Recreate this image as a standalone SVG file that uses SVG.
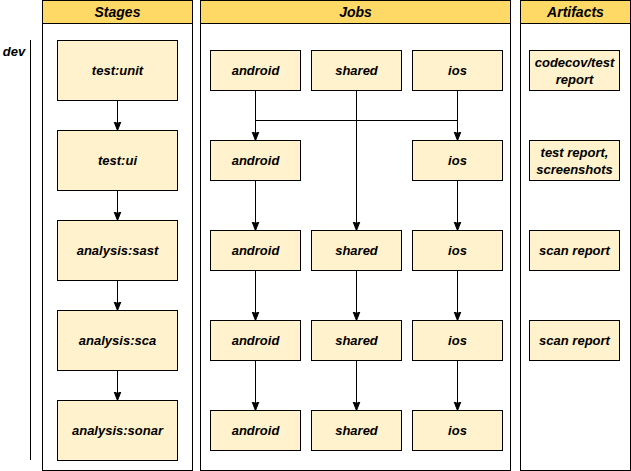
<svg xmlns="http://www.w3.org/2000/svg" width="631" height="471" viewBox="0 0 631 471">
<style>
.lane{fill:#ffffff;stroke:#000000;stroke-width:1}
.hdr{fill:#ffd966;stroke:#000000;stroke-width:1}
.node{fill:#fff2cc;stroke:#000000;stroke-width:1}
text{font-family:"Liberation Sans",Arial,Helvetica,sans-serif;font-weight:bold;font-style:italic;fill:#000000;text-anchor:middle}
.h{font-size:14px}
.t{font-size:13px}
.edge{fill:none;stroke:#000000;stroke-width:1}
.arr{marker-end:url(#ah)}
</style>
<defs>
<marker id="ah" markerUnits="userSpaceOnUse" markerWidth="10" markerHeight="10" viewBox="0 -5 10 10" refX="9" refY="0" orient="auto">
<path d="M0,-3.5 L9,0 L0,3.5 L2,0 Z" fill="#000000" stroke="#000000" stroke-width="1"/>
</marker>
</defs>
<rect width="631" height="471" fill="#ffffff"/>

<g id="dev-lane">
<text class="t" x="14" y="56">dev</text>
<line x1="30.5" y1="40" x2="30.5" y2="460" stroke="#000000" stroke-width="1"/>
</g>

<g id="stages">
<rect class="lane" x="42.5" y="0.5" width="150" height="470"/>
<rect class="hdr" x="42.5" y="0.5" width="150" height="23"/>
<text class="h" x="117.5" y="17">Stages</text>
</g>
<g id="jobs">
<rect class="lane" x="200.5" y="0.5" width="310" height="470"/>
<rect class="hdr" x="200.5" y="0.5" width="310" height="23"/>
<text class="h" x="355.5" y="17">Jobs</text>
</g>
<g id="artifacts">
<rect class="lane" x="520.5" y="0.5" width="110" height="470"/>
<rect class="hdr" x="520.5" y="0.5" width="110" height="23"/>
<text class="h" x="575.5" y="17">Artifacts</text>
</g>

<g id="connectors">
<path class="edge arr" d="M117.5,100.5 V130.5"/>
<path class="edge arr" d="M117.5,190.5 V220.5"/>
<path class="edge arr" d="M117.5,280.5 V310.5"/>
<path class="edge arr" d="M117.5,370.5 V400.5"/>

<path class="edge arr" d="M255.5,90.5 V140.5"/>
<path class="edge arr" d="M457.5,90.5 V140.5"/>
<path class="edge" d="M255.5,120.5 H457.5"/>
<path class="edge arr" d="M356.5,90.5 V230.5"/>

<path class="edge arr" d="M255.5,180.5 V230.5"/>
<path class="edge arr" d="M457.5,180.5 V230.5"/>

<path class="edge arr" d="M255.5,270.5 V320.5"/>
<path class="edge arr" d="M356.5,270.5 V320.5"/>
<path class="edge arr" d="M457.5,270.5 V320.5"/>

<path class="edge arr" d="M255.5,360.5 V410.5"/>
<path class="edge arr" d="M356.5,360.5 V410.5"/>
<path class="edge arr" d="M457.5,360.5 V410.5"/>
</g>

<g id="stage-test-unit"><rect class="node" x="57.5" y="40.5" width="120" height="60"/><text class="t" x="117.5" y="75">test:unit</text></g>
<g id="stage-test-ui"><rect class="node" x="57.5" y="130.5" width="120" height="60"/><text class="t" x="117.5" y="165">test:ui</text></g>
<g id="stage-analysis-sast"><rect class="node" x="57.5" y="220.5" width="120" height="60"/><text class="t" x="117.5" y="255">analysis:sast</text></g>
<g id="stage-analysis-sca"><rect class="node" x="57.5" y="310.5" width="120" height="60"/><text class="t" x="117.5" y="345">analysis:sca</text></g>
<g id="stage-analysis-sonar"><rect class="node" x="57.5" y="400.5" width="120" height="60"/><text class="t" x="117.5" y="435">analysis:sonar</text></g>

<g id="job-android-1"><rect class="node" x="210.5" y="50.5" width="90" height="40"/><text class="t" x="255.5" y="75">android</text></g>
<g id="job-shared-1"><rect class="node" x="311.5" y="50.5" width="90" height="40"/><text class="t" x="356.5" y="75">shared</text></g>
<g id="job-ios-1"><rect class="node" x="412.5" y="50.5" width="90" height="40"/><text class="t" x="457.5" y="75">ios</text></g>

<g id="job-android-2"><rect class="node" x="210.5" y="140.5" width="90" height="40"/><text class="t" x="255.5" y="165">android</text></g>
<g id="job-ios-2"><rect class="node" x="412.5" y="140.5" width="90" height="40"/><text class="t" x="457.5" y="165">ios</text></g>

<g id="job-android-3"><rect class="node" x="210.5" y="230.5" width="90" height="40"/><text class="t" x="255.5" y="255">android</text></g>
<g id="job-shared-3"><rect class="node" x="311.5" y="230.5" width="90" height="40"/><text class="t" x="356.5" y="255">shared</text></g>
<g id="job-ios-3"><rect class="node" x="412.5" y="230.5" width="90" height="40"/><text class="t" x="457.5" y="255">ios</text></g>

<g id="job-android-4"><rect class="node" x="210.5" y="320.5" width="90" height="40"/><text class="t" x="255.5" y="345">android</text></g>
<g id="job-shared-4"><rect class="node" x="311.5" y="320.5" width="90" height="40"/><text class="t" x="356.5" y="345">shared</text></g>
<g id="job-ios-4"><rect class="node" x="412.5" y="320.5" width="90" height="40"/><text class="t" x="457.5" y="345">ios</text></g>

<g id="job-android-5"><rect class="node" x="210.5" y="410.5" width="90" height="40"/><text class="t" x="255.5" y="435">android</text></g>
<g id="job-shared-5"><rect class="node" x="311.5" y="410.5" width="90" height="40"/><text class="t" x="356.5" y="435">shared</text></g>
<g id="job-ios-5"><rect class="node" x="412.5" y="410.5" width="90" height="40"/><text class="t" x="457.5" y="435">ios</text></g>

<g id="artifact-codecov"><rect class="node" x="529.5" y="50.5" width="90" height="40"/><text class="t" x="574.5" y="67">codecov/test</text><text class="t" x="574.5" y="83.5">report</text></g>
<g id="artifact-test-report"><rect class="node" x="529.5" y="140.5" width="90" height="40"/><text class="t" x="574.5" y="157">test report,</text><text class="t" x="574.5" y="173.5">screenshots</text></g>
<g id="artifact-scan-1"><rect class="node" x="529.5" y="230.5" width="90" height="40"/><text class="t" x="574.5" y="255">scan report</text></g>
<g id="artifact-scan-2"><rect class="node" x="529.5" y="320.5" width="90" height="40"/><text class="t" x="574.5" y="345">scan report</text></g>
</svg>
